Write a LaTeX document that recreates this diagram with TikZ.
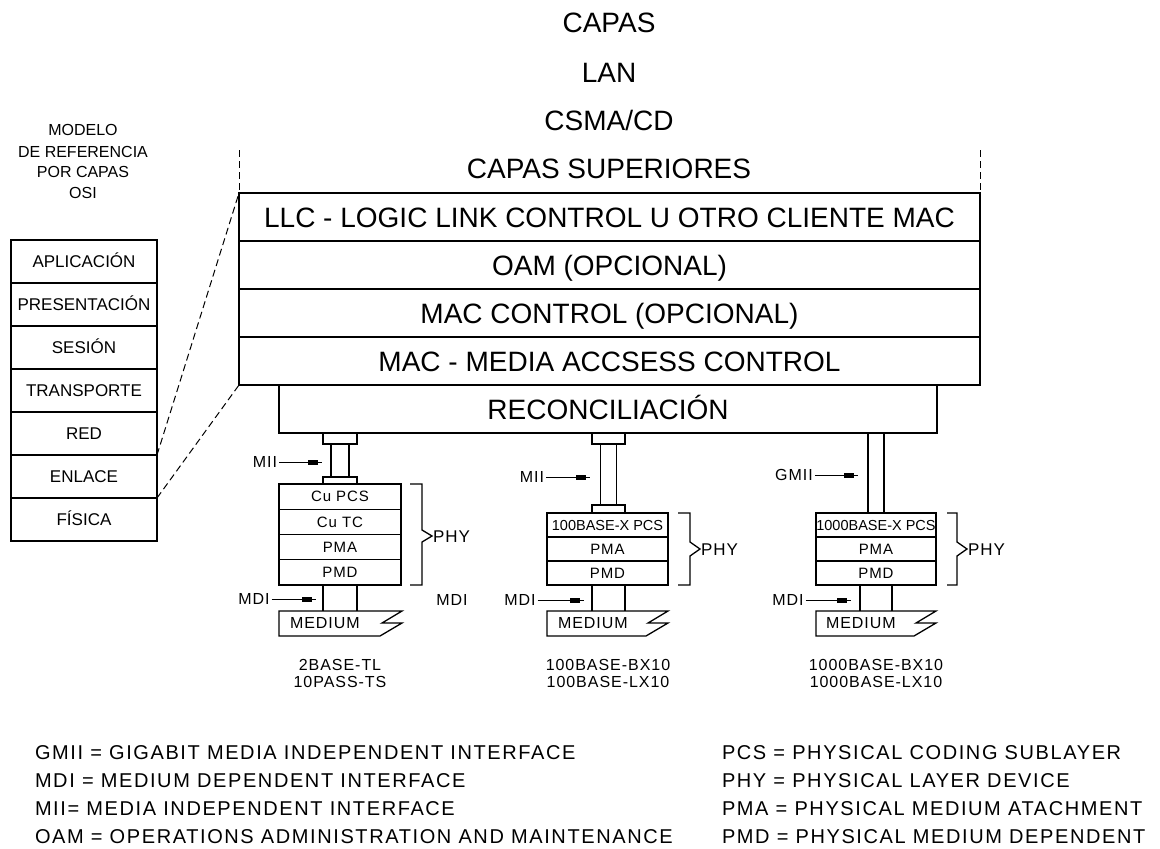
\documentclass[tikz,border=0pt]{standalone}
\usepackage{fontspec}
\setmainfont{Liberation Sans}
\newfontfamily\trk[LetterSpace=6]{Liberation Sans}
\newfontfamily\trkw[LetterSpace=8]{Liberation Sans}
\begin{document}
\begin{tikzpicture}[x=1pt,y=-1pt,line width=1.3pt,
 every node/.style={inner sep=0pt,outer sep=0pt},
 big/.style={font=\fontsize{28}{32}\selectfont,text height=20pt,text depth=0pt},
 layer/.style={draw,big,minimum height=48pt,anchor=north west},
 osirow/.style={draw,font=\fontsize{17}{20}\selectfont,text height=12.2pt,text depth=0pt,minimum width=146pt,minimum height=43pt,anchor=north west},
 osititle/.style={font=\fontsize{16}{20}\selectfont,text height=11.5pt,text depth=0pt},
 cell/.style={draw,font=\trk\fontsize{15}{18}\selectfont,text height=10.7pt,text depth=0pt,anchor=north west},
 cellx/.style={cell,font=\fontsize{14.5}{18}\selectfont},
 lab/.style={font=\trk\fontsize{16}{19}\selectfont,text height=11.5pt,text depth=0pt},
 phylab/.style={font=\trk\fontsize{17}{20}\selectfont,text height=12.2pt,text depth=0pt,anchor=west},
 leg/.style={font=\trkw\fontsize{20}{24}\selectfont,text height=14.3pt,text depth=0pt,anchor=west},
 capbox/.style={draw,anchor=north west},
 thinl/.style={line width=1pt,shorten <=2pt},
 dsh/.style={line width=1pt,dash pattern=on 7pt off 4pt},
]
\fill[white] (0,0) rectangle (1160,849);
\useasboundingbox (0,0) rectangle (1160,849);

% top titles
\node[big] (tcapas) at (609,22) {CAPAS};
\node[big] (tlan) at (609,72) {LAN};
\node[big] (tcsma) at (609,120) {CSMA/CD};
\node[big] (tsup) at (609,168) {CAPAS SUPERIORES};

% main stack
\node[layer,minimum width=741pt] (llc) at (239,193) {LLC - LOGIC LINK CONTROL U OTRO CLIENTE MAC};
\node[layer,minimum width=741pt] (oam) at (239,241) {OAM (OPCIONAL)};
\node[layer,minimum width=741pt] (macc) at (239,289) {MAC CONTROL (OPCIONAL)};
\node[layer,minimum width=741pt] (mac) at (239,337) {MAC - MEDIA ACCSESS CONTROL};
\node[layer,minimum width=658pt] (rec) at (279,385) {RECONCILIACIÓN};
\coordinate (dl) at (239,150);
\coordinate (dr) at (980,150);
\draw[dsh] (dl) -- (llc.north west);
\draw[dsh] (dr) -- (llc.north east);

% OSI model
\node[osititle] (o1) at (83,130) {MODELO};
\node[osititle] (o2) at (83,152) {DE REFERENCIA};
\node[osititle] (o3) at (83,172) {POR CAPAS};
\node[osititle] (o4) at (83,193) {OSI};
\node[osirow] (a1) at (11,240) {APLICACIÓN};
\node[osirow] (a2) at (11,283) {PRESENTACIÓN};
\node[osirow] (a3) at (11,326) {SESIÓN};
\node[osirow] (a4) at (11,369) {TRANSPORTE};
\node[osirow] (a5) at (11,412) {RED};
\node[osirow] (a6) at (11,455) {ENLACE};
\node[osirow] (a7) at (11,498) {FÍSICA};
\draw[dsh] (a5.south east) -- (llc.north west);
\draw[dsh] (a6.south east) -- (mac.south west);

% ---------- stack 1
\node[capbox,minimum width=34pt,minimum height=11pt] (p1a) at (323,433) {};
\node[capbox,minimum width=34pt,minimum height=7pt] (p1b) at (323,477) {};
\draw ([xshift=-9pt]p1a.south) -- ([xshift=-9pt]p1b.north);
\draw ([xshift=9pt]p1a.south) -- ([xshift=9pt]p1b.north);
\node[cell,minimum width=122pt,minimum height=25.25pt] (s1a) at (279,484) {Cu PCS};
\node[cell,minimum width=122pt,minimum height=25.25pt] (s1b) at (279,509.25) {Cu TC};
\node[cell,minimum width=122pt,minimum height=25.25pt] (s1c) at (279,534.5) {PMA};
\node[cell,minimum width=122pt,minimum height=25.25pt] (s1d) at (279,559.75) {PMD};
\draw (323,585) -- (323,611);
\draw (357,585) -- (357,611);
\draw (279,611) -- (402,611) -- (382,623) -- (402,623) -- (380,636) -- (279,636) -- cycle;
\node[lab,anchor=west] (m1) at (290,623) {MEDIUM};
\node[lab] (mii1) at (265,462) {MII};
\coordinate (mii1e) at (322,462);
\draw[thinl] (mii1) -- (mii1e);
\fill ([xshift=-14pt,yshift=2.5pt]mii1e) rectangle ([xshift=-4pt,yshift=-2.5pt]mii1e);
\node[lab] (mdi1) at (254,599) {MDI};
\coordinate (mdi1e) at (316,599);
\draw[thinl] (mdi1) -- (mdi1e);
\fill ([xshift=-14pt,yshift=2.5pt]mdi1e) rectangle ([xshift=-4pt,yshift=-2.5pt]mdi1e);
\node[lab] (mdi1r) at (452,600) {MDI};
\draw (410,484) -- (422,484) -- (422,530) -- (432,536) -- (422,542) -- (422,585) -- (410,585);
\node[phylab] (phy1) at (433,536) {PHY};
\node[lab] (n1a) at (340,665) {2BASE-TL};
\node[lab] (n1b) at (340,682) {10PASS-TS};

% ---------- stack 2
\node[capbox,minimum width=33pt,minimum height=11pt] (p2a) at (592,433) {};
\node[capbox,minimum width=33pt,minimum height=8pt] (p2b) at (592,505) {};
\draw ([xshift=-8pt]p2a.south) -- ([xshift=-8pt]p2b.north);
\draw ([xshift=8pt]p2a.south) -- ([xshift=8pt]p2b.north);
\node[cellx,minimum width=121pt,minimum height=24pt] (s2a) at (547,513) {100BASE-X PCS};
\node[cell,minimum width=121pt,minimum height=24pt] (s2b) at (547,537) {PMA};
\node[cell,minimum width=121pt,minimum height=24pt] (s2c) at (547,561) {PMD};
\draw (592,585) -- (592,611);
\draw (625,585) -- (625,611);
\draw (547,611) -- (668,611) -- (648,623) -- (668,623) -- (646,636) -- (547,636) -- cycle;
\node[lab,anchor=west] (m2) at (558,623) {MEDIUM};
\node[lab] (mii2) at (532,477) {MII};
\coordinate (mii2e) at (590,477);
\draw[thinl] (mii2) -- (mii2e);
\fill ([xshift=-14pt,yshift=2.5pt]mii2e) rectangle ([xshift=-4pt,yshift=-2.5pt]mii2e);
\node[lab] (mdi2) at (520,600) {MDI};
\coordinate (mdi2e) at (584,600);
\draw[thinl] (mdi2) -- (mdi2e);
\fill ([xshift=-14pt,yshift=2.5pt]mdi2e) rectangle ([xshift=-4pt,yshift=-2.5pt]mdi2e);
\draw (678,513) -- (690,513) -- (690,542) -- (700,549) -- (690,556) -- (690,585) -- (678,585);
\node[phylab] (phy2) at (701,549) {PHY};
\node[lab] (n2a) at (608,665) {100BASE-BX10};
\node[lab] (n2b) at (608,682) {100BASE-LX10};

% ---------- stack 3
\node[cellx,minimum width=120pt,minimum height=24pt] (s3a) at (816,513) {1000BASE-X PCS};
\node[cell,minimum width=120pt,minimum height=24pt] (s3b) at (816,537) {PMA};
\node[cell,minimum width=120pt,minimum height=24pt] (s3c) at (816,561) {PMD};
\draw (868,433) -- (868,513);
\draw (884,433) -- (884,513);
\draw (860,585) -- (860,611);
\draw (892,585) -- (892,611);
\draw (816,611) -- (936,611) -- (916,623) -- (936,623) -- (914,636) -- (816,636) -- cycle;
\node[lab,anchor=west] (m3) at (826,623) {MEDIUM};
\node[lab] (gmii3) at (794,475) {GMII};
\coordinate (gmii3e) at (858,475);
\draw[thinl] (gmii3) -- (gmii3e);
\fill ([xshift=-14pt,yshift=2.5pt]gmii3e) rectangle ([xshift=-4pt,yshift=-2.5pt]gmii3e);
\node[lab] (mdi3) at (788,600) {MDI};
\coordinate (mdi3e) at (851,600);
\draw[thinl] (mdi3) -- (mdi3e);
\fill ([xshift=-14pt,yshift=2.5pt]mdi3e) rectangle ([xshift=-4pt,yshift=-2.5pt]mdi3e);
\draw (947,513) -- (957,513) -- (957,542) -- (967,549) -- (957,556) -- (957,585) -- (947,585);
\node[phylab] (phy3) at (968,549) {PHY};
\node[lab] (n3a) at (876,665) {1000BASE-BX10};
\node[lab] (n3b) at (876,682) {1000BASE-LX10};

% ---------- legend
\node[leg] (g1) at (35,752) {GMII = GIGABIT MEDIA INDEPENDENT INTERFACE};
\node[leg] (g2) at (35,780) {MDI = MEDIUM DEPENDENT INTERFACE};
\node[leg] (g3) at (35,808) {MII= MEDIA INDEPENDENT INTERFACE};
\node[leg] (g4) at (35,836) {OAM = OPERATIONS ADMINISTRATION AND MAINTENANCE};
\node[leg] (h1) at (722,752) {PCS = PHYSICAL CODING SUBLAYER};
\node[leg] (h2) at (722,780) {PHY = PHYSICAL LAYER DEVICE};
\node[leg] (h3) at (722,808) {PMA = PHYSICAL MEDIUM ATACHMENT};
\node[leg] (h4) at (722,836) {PMD = PHYSICAL MEDIUM DEPENDENT};
\end{tikzpicture}
\end{document}
